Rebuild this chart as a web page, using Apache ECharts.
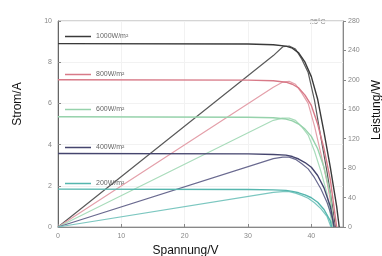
<!DOCTYPE html>
<html>
<head>
<meta charset="utf-8">
<script src="https://cdn.jsdelivr.net/npm/echarts@6/dist/echarts.min.js"></script>
<style>
html, body { margin: 0; padding: 0; background: #fff; }
#chart { width: 382px; height: 256px; }
</style>
</head>
<body>
<div id="chart"></div>
<script>
var names = ['1000W/m²', '800W/m²', '600W/m²', '400W/m²', '200W/m²'];
var colors = ['#3a3a3a', '#d87a88', '#96d2ab', '#45456e', '#55b6ae'];
var powerColors = ['#5a5a5a', '#e4a0aa', '#a9dcbb', '#6a6a90', '#7cc7c0'];

// Spannung (V) stuetzstellen
var vIV = [0, 30, 34, 36, 37, 38, 39, 40, 41, 42, 43, 44];
var vP = [0, 34, 35.5, 36.5, 37.5, 38.5, 39.5, 40.5, 41.5, 42.5, 43.3];

// Strom/A
var i1000 = [8.9, 8.88, 8.85, 8.78, 8.68, 8.45, 8.0, 7.3, 6.2, 4.6, 2.9, 1.0];
var i800 = [7.15, 7.13, 7.1, 7.03, 6.93, 6.75, 6.4, 5.9, 5.0, 3.8, 2.3, 0.6];
var i600 = [5.35, 5.33, 5.3, 5.24, 5.15, 5.0, 4.75, 4.4, 3.8, 2.9, 1.6, 0.2];
var i400 = [3.57, 3.55, 3.52, 3.49, 3.42, 3.3, 3.13, 2.9, 2.5, 1.9, 1.0, 0.1];
var i200 = [1.84, 1.82, 1.8, 1.78, 1.73, 1.66, 1.56, 1.42, 1.2, 0.85, 0.3, 0];
var vocIV = [44.4, 44.0, 43.5, 43.6, 43.2];

// Leistung/W
var p1000 = [0, 233, 245, 246, 242, 228, 210, 172, 122, 74, 30];
var p800 = [0, 190, 197, 198, 194, 182, 168, 137, 100, 60, 22];
var p600 = [0, 145, 148, 148, 145, 136, 125, 103, 76, 45, 14];
var p400 = [0, 93, 95, 95, 92, 86, 79, 67, 52, 33, 12];
var p200 = [0, 47, 48, 48, 46, 43, 39, 33, 25, 14, 2];
var vocP = [43.8, 43.6, 43.3, 43.5, 43.1];

var legendTop = [28, 66, 101, 139, 175];

var currents = [i1000, i800, i600, i400, i200];
var powers = [p1000, p800, p600, p400, p200];

function pairs(xs, ys, voc) {
	var out = [];
	for (var i = 0; i < xs.length; i++) {
		if (xs[i] < voc) out.push([xs[i], ys[i]]);
	}
	out.push([voc, 0]);
	return out;
}

var series = [];
var legends = [];
for (var k = 0; k < names.length; k++) {
	series.push({
		name: names[k],
		type: 'line',
		yAxisIndex: 0,
		data: pairs(vIV, currents[k], vocIV[k]),
		smooth: false,
		symbol: 'none',
		lineStyle: { color: colors[k], width: 1.4, join: 'round' },
		itemStyle: { color: colors[k] },
		z: 3
	});
	series.push({
		name: names[k],
		type: 'line',
		yAxisIndex: 1,
		data: pairs(vP, powers[k], vocP[k]),
		smooth: false,
		symbol: 'none',
		lineStyle: { color: powerColors[k], width: 1.2, join: 'round' },
		itemStyle: { color: colors[k] },
		z: 2
	});
	legends.push({
		data: [names[k]],
		left: 60,
		top: legendTop[k],
		icon: 'rect',
		itemWidth: 26,
		itemHeight: 1.5,
		itemGap: 2,
		textStyle: { fontSize: 7, color: '#666', fontFamily: 'Liberation Sans' }
	});
}

var labelStyle = { fontSize: 7, color: '#888', fontFamily: 'Liberation Sans' };

var chart = echarts.init(document.getElementById('chart'), null, { renderer: 'canvas' });
chart.setOption({
	animation: false,
	backgroundColor: '#fff',
	grid: {
		left: 58, right: 39, top: 21, bottom: 29,
		outerBoundsMode: 'none', containLabel: false,
		show: true, borderColor: '#aaa', borderWidth: 1
	},
	legend: legends,
	graphic: [{
		type: 'text',
		left: 310,
		top: 19,
		style: { text: '25°C', fontSize: 7, fill: '#888', fontFamily: 'Liberation Sans' }
	}],
	xAxis: {
		type: 'value',
		min: 0,
		max: 45,
		interval: 10,
		name: 'Spannung/V',
		nameLocation: 'middle',
		nameGap: 15,
		nameTextStyle: { fontSize: 12, color: '#111', fontFamily: 'Liberation Sans', padding: [0, 30, 0, 0] },
		axisLine: { lineStyle: { color: '#888' } },
		axisTick: { inside: true, length: 3, lineStyle: { color: '#888' } },
		axisLabel: Object.assign({ margin: 6, showMaxLabel: false }, labelStyle),
		splitLine: { show: true, lineStyle: { color: '#f2f2f2' } }
	},
	yAxis: [{
		type: 'value',
		min: 0,
		max: 10,
		interval: 2,
		name: 'Strom/A',
		nameLocation: 'middle',
		nameRotate: 90,
		nameGap: 34,
		nameTextStyle: { fontSize: 12, color: '#111', fontFamily: 'Liberation Sans', padding: [0, 0, 0, 40] },
		axisLine: { show: true, lineStyle: { color: '#666' } },
		axisTick: { show: true, inside: true, length: 3, lineStyle: { color: '#888' } },
		axisLabel: Object.assign({ margin: 6 }, labelStyle),
		splitLine: { show: true, lineStyle: { color: '#f2f2f2' } }
	}, {
		type: 'value',
		min: 0,
		max: 280,
		interval: 40,
		position: 'right',
		name: 'Leistung/W',
		nameLocation: 'middle',
		nameRotate: 90,
		nameGap: 28,
		nameTextStyle: { fontSize: 12, color: '#111', fontFamily: 'Liberation Sans', padding: [0, 0, 0, 28] },
		axisLine: { show: true, lineStyle: { color: '#888' } },
		axisTick: { show: true, inside: false, length: 3, lineStyle: { color: '#888' } },
		axisLabel: Object.assign({ margin: 5 }, labelStyle),
		splitLine: { show: false }
	}],
	series: series
});
</script>
</body>
</html>
